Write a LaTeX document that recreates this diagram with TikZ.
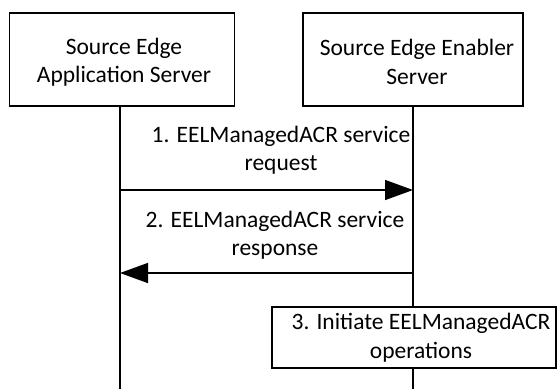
\documentclass[tikz,border=0pt]{standalone}
\usepackage{fontspec}
\setmainfont{Carlito}
\usetikzlibrary{arrows.meta}
\begin{document}
\begin{tikzpicture}[x=1pt,y=-1pt,
  every node/.style={font=\fontsize{23.5}{28.5}\selectfont, align=center, inner sep=0pt},
  entity/.style={draw, line width=1.2pt, fill=white},
  lifeline/.style={line width=1.2pt},
  msg/.style={line width=1.5pt, -{Triangle[length=28pt,width=20pt]}},
  lbl/.style={}]
\useasboundingbox (0,0) rectangle (559,389);
% entity boxes
\draw[entity] (9.5,13) rectangle (234.5,106);
\node (aslabel) at (124,62) {Source Edge\\Application Server};
\draw[entity] (303,13) rectangle (523,106);
\node (eeslabel) at (417,62) {Source Edge Enabler\\Server};
\coordinate (as) at (120,106);
\coordinate (ees) at (413,106);
\coordinate (asend) at (120,389);
\coordinate (eesend) at (413,389);
\draw[lifeline] (as) -- (asend);
\draw[lifeline] (ees) -- (eesend);
% messages
\coordinate (m1s) at (120,190);
\coordinate (m1e) at (413,190);
\draw[msg] (m1s) -- (m1e);
\node[lbl] (l1) at (281,150) {1. EELManagedACR service\\request};
\coordinate (m2s) at (413,273);
\coordinate (m2e) at (120,273);
\draw[msg] (m2s) -- (m2e);
\node[lbl] (l2) at (275,235) {2. EELManagedACR service\\response};
% step 3
\node[entity, minimum width=284pt, minimum height=61pt] (s3) at (414,337.5) {};
\node (s3t) at (421,337.5) {3. Initiate EELManagedACR\\operations};
\end{tikzpicture}
\end{document}
